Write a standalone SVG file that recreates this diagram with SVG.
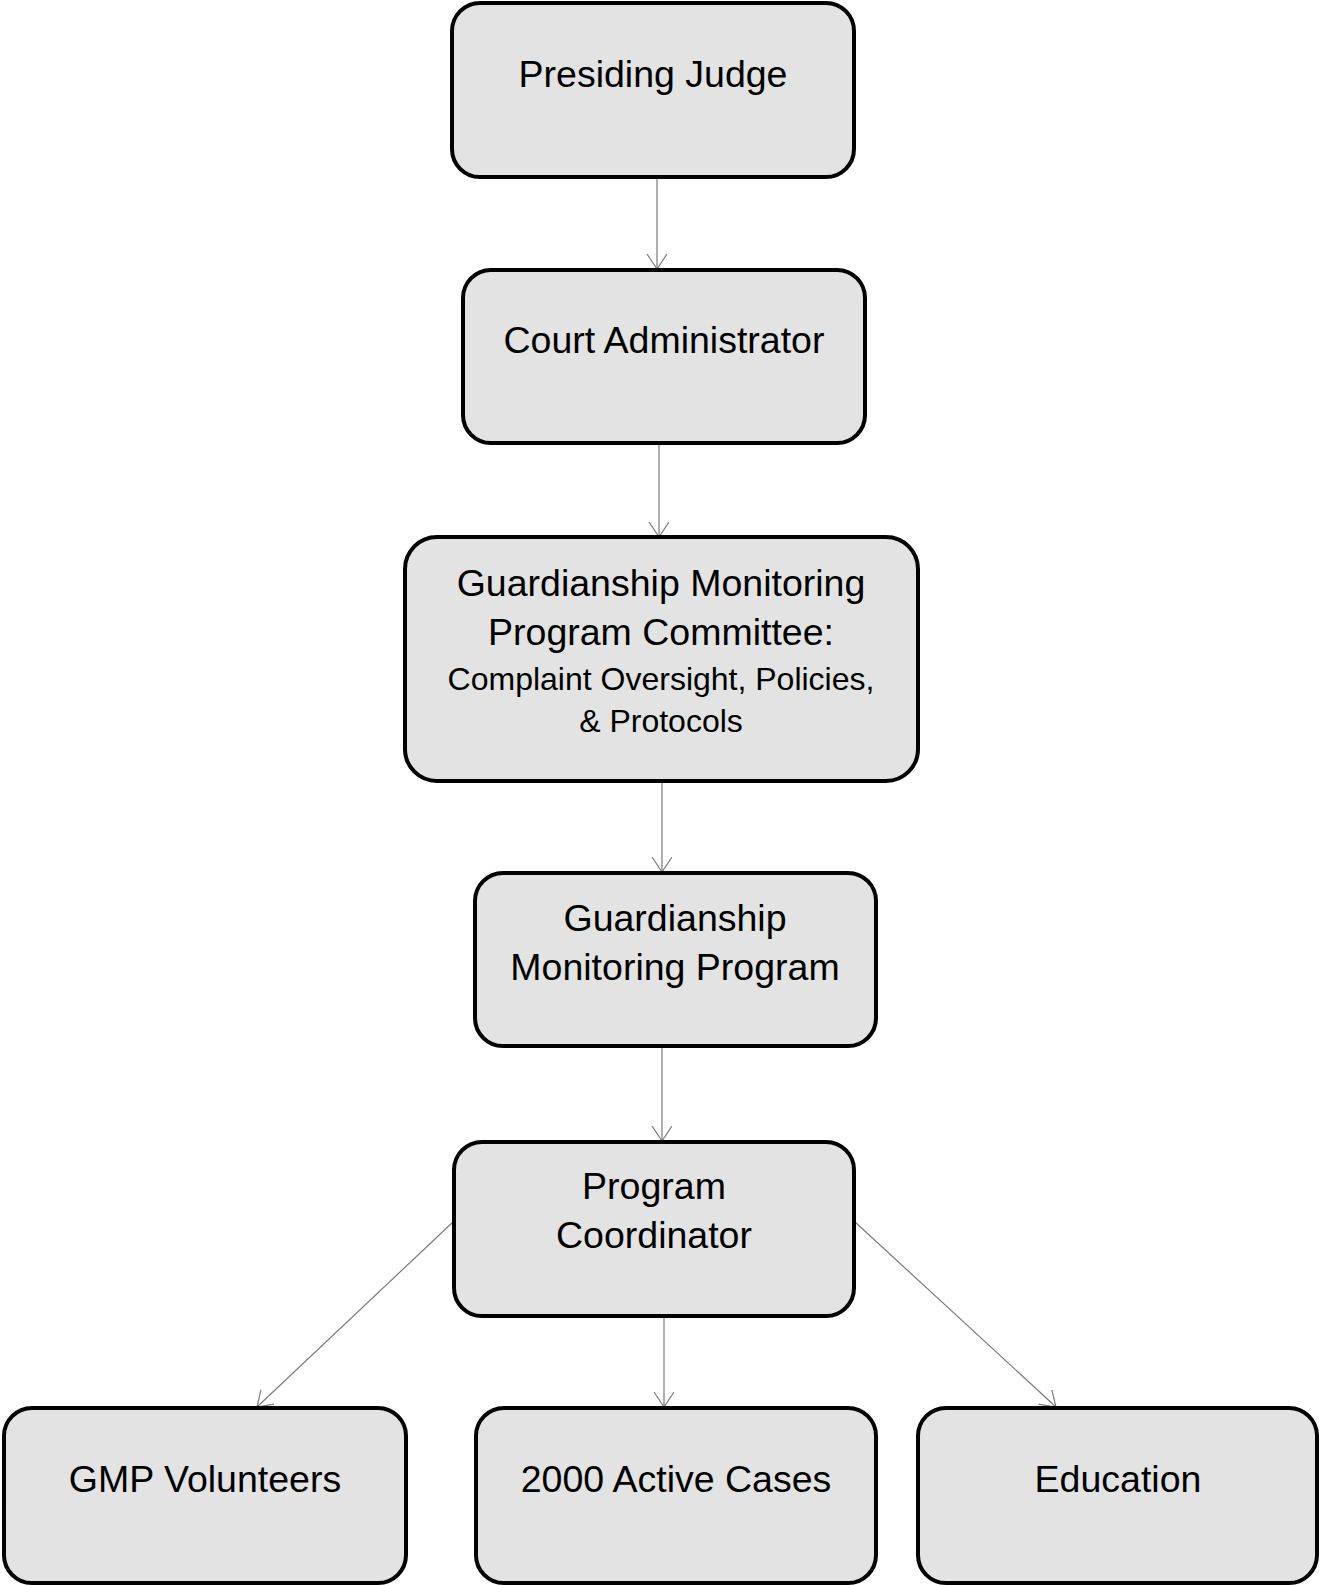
<svg xmlns="http://www.w3.org/2000/svg" width="1320" height="1585" viewBox="0 0 1320 1585">
<style>
.box{fill:#e3e3e3;stroke:#000;stroke-width:4}
.t{font-family:"Liberation Sans",Arial,sans-serif;font-size:37.5px;fill:#000;text-anchor:middle}
.s{font-size:32px}
.c{stroke:#7a7a7a;stroke-width:1.2;fill:none;marker-end:url(#ah)}
</style>
<defs>
<marker id="ah" markerUnits="userSpaceOnUse" markerWidth="24" markerHeight="24" refX="15" refY="10" orient="auto">
<path d="M0,0 L15,10 L0,20" fill="none" stroke="#7a7a7a" stroke-width="1.2"/>
</marker>
</defs>
<g id="connectors">
<line class="c" x1="657" y1="178" x2="657" y2="269"/>
<line class="c" x1="659" y1="444" x2="659" y2="537"/>
<line class="c" x1="662" y1="782" x2="662" y2="872"/>
<line class="c" x1="662" y1="1047" x2="662" y2="1141"/>
<line class="c" x1="664" y1="1317" x2="664" y2="1407"/>
<line class="c" x1="453" y1="1222" x2="257" y2="1407"/>
<line class="c" x1="855" y1="1222" x2="1056" y2="1407"/>
</g>
<g id="presiding-judge">
<rect class="box" x="452" y="3" width="402" height="174" rx="28"/>
<text class="t" x="653" y="87">Presiding Judge</text>
</g>
<g id="court-administrator">
<rect class="box" x="463" y="270" width="402" height="173" rx="28"/>
<text class="t" x="664" y="353">Court Administrator</text>
</g>
<g id="committee">
<rect class="box" x="405" y="537" width="513" height="244" rx="32"/>
<text class="t" x="661" y="596">Guardianship Monitoring</text>
<text class="t" x="661" y="645">Program Committee:</text>
<text class="t s" x="661" y="690">Complaint Oversight, Policies,</text>
<text class="t s" x="661" y="732">&amp; Protocols</text>
</g>
<g id="gmp">
<rect class="box" x="475" y="873" width="401" height="173" rx="28"/>
<text class="t" x="675" y="931">Guardianship</text>
<text class="t" x="675" y="980">Monitoring Program</text>
</g>
<g id="program-coordinator">
<rect class="box" x="454" y="1142" width="400" height="174" rx="28"/>
<text class="t" x="654" y="1199">Program</text>
<text class="t" x="654" y="1248">Coordinator</text>
</g>
<g id="gmp-volunteers">
<rect class="box" x="4" y="1408" width="402" height="175" rx="28"/>
<text class="t" x="205" y="1492">GMP Volunteers</text>
</g>
<g id="active-cases">
<rect class="box" x="476" y="1408" width="400" height="175" rx="28"/>
<text class="t" x="676" y="1492">2000 Active Cases</text>
</g>
<g id="education">
<rect class="box" x="918" y="1408" width="399" height="175" rx="28"/>
<text class="t" x="1118" y="1492">Education</text>
</g>
</svg>
